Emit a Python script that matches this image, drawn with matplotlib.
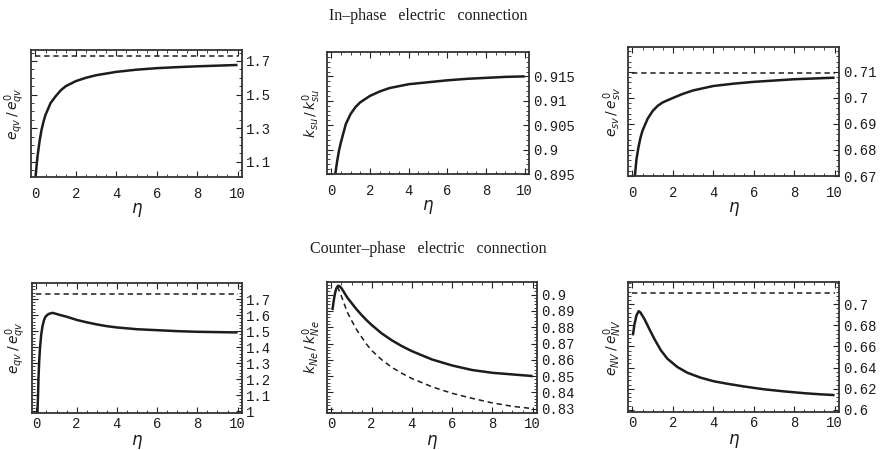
import matplotlib
matplotlib.use("Agg")
import matplotlib.pyplot as plt
from matplotlib.ticker import FixedLocator, MultipleLocator, FixedFormatter

# ---------------- data ----------------
# In-phase, left panel
eta_ip1 = [0.0, 0.05, 0.1, 0.2, 0.3, 0.4, 0.5, 0.75, 1, 1.25, 1.5, 2, 2.5, 3,
           4, 5, 6, 7, 8, 9, 10]
val_ip1 = [1.0, 1.07, 1.13, 1.22, 1.29, 1.34, 1.38, 1.45, 1.49, 1.525, 1.55,
           1.58, 1.60, 1.615, 1.635, 1.648, 1.657, 1.663, 1.668, 1.672, 1.676]
lim_ip1 = 1.732

# In-phase, middle panel
eta_ip2 = [0.2, 0.3, 0.4, 0.5, 0.75, 1, 1.25, 1.5, 2, 2.5, 3, 4, 5, 6, 7, 8, 9, 10]
val_ip2 = [0.8948, 0.8975, 0.8998, 0.9015, 0.9052, 0.9073, 0.9087, 0.9097,
           0.911, 0.9119, 0.9126, 0.9134, 0.9138, 0.9142, 0.9145, 0.9147,
           0.9149, 0.915]

# In-phase, right panel
eta_ip3 = [0.12, 0.2, 0.3, 0.4, 0.5, 0.75, 1, 1.25, 1.5, 2, 2.5, 3, 4, 5, 6,
           7, 8, 9, 10]
val_ip3 = [0.67, 0.6765, 0.6812, 0.6848, 0.6875, 0.692, 0.695, 0.697, 0.6983,
           0.7, 0.7016, 0.7029, 0.7046, 0.7055, 0.7062, 0.7067, 0.7072,
           0.7075, 0.7078]
lim_ip3 = 0.7096

# Counter-phase, left panel
eta_cp1 = [0.05, 0.08, 0.1, 0.14, 0.18, 0.24, 0.3, 0.38, 0.45, 0.6, 0.8, 1,
           1.25, 1.5, 2, 2.5, 3, 3.5, 4, 5, 6, 7, 8, 9, 10]
val_cp1 = [0.99, 1.1, 1.2, 1.32, 1.4, 1.48, 1.53, 1.57, 1.59, 1.607, 1.614,
           1.607, 1.598, 1.59, 1.57, 1.555, 1.542, 1.531, 1.523, 1.512, 1.506,
           1.5, 1.496, 1.494, 1.492]
lim_cp1 = 1.732

# Counter-phase, middle panel
eta_cp2 = [0.05, 0.1, 0.15, 0.2, 0.25, 0.33, 0.4, 0.5, 0.6, 0.7, 0.8, 0.9, 1,
           1.25, 1.5, 1.75, 2, 2.5, 3, 3.5, 4, 5, 6, 7, 8, 9, 10]
val_cp2 = [0.8906, 0.895, 0.899, 0.902, 0.904, 0.9055, 0.9052, 0.904, 0.902,
           0.9, 0.898, 0.8965, 0.8949, 0.891, 0.8875, 0.8843, 0.8814, 0.8762,
           0.872, 0.8684, 0.8653, 0.8602, 0.8565, 0.8537, 0.852, 0.851, 0.85]
eta_cp2d = [0.3, 0.4, 0.5, 0.6, 0.8, 1, 1.25, 1.5, 1.75, 2, 2.5, 3, 3.5, 4, 5,
            6, 7, 8, 9, 10]
val_cp2d = [0.905, 0.902, 0.899, 0.8955, 0.889, 0.8842, 0.8785, 0.874, 0.8695,
            0.8657, 0.86, 0.8554, 0.8517, 0.8485, 0.8434, 0.8394, 0.8363,
            0.8335, 0.8314, 0.83]

# Counter-phase, right panel
eta_cp3 = [0.02, 0.1, 0.2, 0.31, 0.4, 0.59, 0.83, 1.08, 1.41, 1.73, 2.22,
           2.71, 3.37, 4.02, 4.67, 5.5, 6.5, 7.5, 8.5, 9.25, 10]
val_cp3 = [0.6705, 0.681, 0.6895, 0.6934, 0.692, 0.6861, 0.6767, 0.6673,
           0.6563, 0.6484, 0.6406, 0.6352, 0.6305, 0.6271, 0.6248, 0.6222,
           0.6195, 0.6175, 0.6158, 0.6148, 0.614]
lim_cp3 = 0.711

x_ticks = [0, 2, 4, 6, 8, 10]
x_ticklabels = ["0", "2", "4", "6", "8", "10"]

yt_ip1 = [1.1, 1.3, 1.5, 1.7]
yl_ip1 = ["1.1", "1.3", "1.5", "1.7"]
yt_ip2 = [0.895, 0.9, 0.905, 0.91, 0.915]
yl_ip2 = ["0.895", "0.9", "0.905", "0.91", "0.915"]
yt_ip3 = [0.67, 0.68, 0.69, 0.7, 0.71]
yl_ip3 = ["0.67", "0.68", "0.69", "0.7", "0.71"]
yt_cp1 = [1.0, 1.1, 1.2, 1.3, 1.4, 1.5, 1.6, 1.7]
yl_cp1 = ["1", "1.1", "1.2", "1.3", "1.4", "1.5", "1.6", "1.7"]
yt_cp2 = [0.83, 0.84, 0.85, 0.86, 0.87, 0.88, 0.89, 0.9]
yl_cp2 = ["0.83", "0.84", "0.85", "0.86", "0.87", "0.88", "0.89", "0.9"]
yt_cp3 = [0.6, 0.62, 0.64, 0.66, 0.68, 0.7]
yl_cp3 = ["0.6", "0.62", "0.64", "0.66", "0.68", "0.7"]

title_top = "In\u2013phase   electric   connection"
title_bot = "Counter\u2013phase   electric   connection"

# ---------------- figure ----------------
W, H = 882, 450
fig = plt.figure(figsize=(W / 100, H / 100), dpi=100)
fig.patch.set_facecolor("white")
INK = "#1c1c1c"


def add_ax(l, r, t, b):
    return fig.add_axes([l / W, 1 - b / H, (r - l) / W, (b - t) / H])


def style(ax, ylim, yt, yl, ylabel, yminor, xpad, xlpad):
    ax.set_xlim(-0.22, 10.22)
    ax.set_ylim(*ylim)
    ax.xaxis.set_major_locator(FixedLocator(x_ticks))
    ax.xaxis.set_major_formatter(FixedFormatter(x_ticklabels))
    ax.xaxis.set_minor_locator(MultipleLocator(0.5))
    ax.yaxis.set_major_locator(FixedLocator(yt))
    ax.yaxis.set_major_formatter(FixedFormatter(yl))
    ax.yaxis.set_minor_locator(MultipleLocator(yminor))
    ax.yaxis.tick_right()
    ax.tick_params(which="both", direction="in", top=True, bottom=True,
                   left=True, right=True, labelleft=False, labelright=True,
                   color="#222222")
    ax.tick_params(which="major", length=4, width=0.8)
    ax.tick_params(which="minor", length=2, width=0.6)
    ax.tick_params(axis="y", which="major", pad=3)
    ax.tick_params(axis="x", which="major", pad=xpad)
    for lab in ax.get_xticklabels() + ax.get_yticklabels():
        lab.set_fontfamily("Liberation Mono")
        lab.set_fontsize(10)
        lab.set_color(INK)
    for s in ax.spines.values():
        s.set_linewidth(1.3)
        s.set_color("#333333")
    ax.set_ylabel(ylabel, fontsize=10, color=INK)
    ax.yaxis.set_label_position("left")
    ax.yaxis.set_label_coords(-0.02, 0.5)
    ax.set_xlabel(r"$\eta$", fontsize=12, color=INK, labelpad=xlpad)


solid = dict(color=INK, lw=1.8, solid_capstyle="butt", solid_joinstyle="round")
dashed = dict(color=INK, lw=1.1, ls=(0, (3.5, 2.5)))

# Top-left
ax = add_ax(31, 242, 50, 177)
ax.plot([0, 10], [lim_ip1, lim_ip1], **dashed)
ax.plot(eta_ip1, val_ip1, **solid)
style(ax, (1.01, 1.765), yt_ip1, yl_ip1, r"$e_{qv}\,/\,e_{qv}^{0}$", 0.05, 7, 0)

# Top-middle
ax = add_ax(327, 529, 52, 174)
ax.plot(eta_ip2, val_ip2, **solid)
style(ax, (0.895, 0.92), yt_ip2, yl_ip2, r"$k_{su}\,/\,k_{su}^{0}$", 0.001, 7, 0)

# Top-right
ax = add_ax(628, 839, 47, 176)
ax.plot([0, 10], [lim_ip3, lim_ip3], **dashed)
ax.plot(eta_ip3, val_ip3, **solid)
style(ax, (0.67, 0.7196), yt_ip3, yl_ip3, r"$e_{sv}\,/\,e_{sv}^{0}$", 0.002, 7, 0)

# Bottom-left
ax = add_ax(32, 242, 283, 413)
ax.plot([0, 10], [lim_cp1, lim_cp1], **dashed)
ax.plot(eta_cp1, val_cp1, **solid)
style(ax, (0.99, 1.80), yt_cp1, yl_cp1, r"$e_{qv}\,/\,e_{qv}^{0}$", 0.02, 3, 1)

# Bottom-middle
ax = add_ax(327, 537, 282, 413)
ax.plot(eta_cp2d, val_cp2d, **dashed)
ax.plot(eta_cp2, val_cp2, **solid)
style(ax, (0.8273, 0.9078), yt_cp2, yl_cp2, r"$k_{Ne}\,/\,k_{Ne}^{0}$", 0.002, 3, 1)

# Bottom-right
ax = add_ax(628, 839, 282, 412)
ax.plot([0, 10], [lim_cp3, lim_cp3], **dashed)
ax.plot(eta_cp3, val_cp3, **solid)
style(ax, (0.598, 0.721), yt_cp3, yl_cp3, r"$e_{NV}\,/\,e_{NV}^{0}$", 0.004, 3, 1)

fig.text(428 / W, 1 - 16 / H, title_top, ha="center", va="center",
         fontfamily="Liberation Serif", fontsize=11.5, color=INK)
fig.text(428 / W, 1 - 249 / H, title_bot, ha="center", va="center",
         fontfamily="Liberation Serif", fontsize=11.5, color=INK)

fig.savefig("out.png", dpi=100, facecolor="white")
